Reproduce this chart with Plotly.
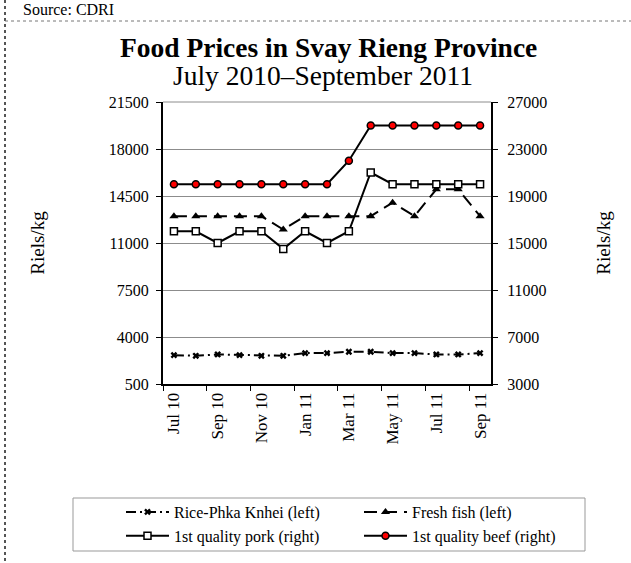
import plotly.graph_objects as go

months = ["Jul 10", "Aug 10", "Sep 10", "Oct 10", "Nov 10", "Dec 10", "Jan 11", "Feb 11",
          "Mar 11", "Apr 11", "May 11", "Jun 11", "Jul 11", "Aug 11", "Sep 11"]
rice = [2650, 2600, 2700, 2650, 2600, 2600, 2800, 2800, 2900, 2900, 2800, 2800, 2700, 2700, 2800]
fish = [13000, 13000, 13000, 13000, 13000, 12000, 13000, 13000, 13000, 13000, 14000, 13000, 15000, 15000, 13000]
pork = [16000, 16000, 15000, 16000, 16000, 14500, 16000, 15000, 16000, 21000, 20000, 20000, 20000, 20000, 20000]
beef = [20000, 20000, 20000, 20000, 20000, 20000, 20000, 20000, 22000, 25000, 25000, 25000, 25000, 25000, 25000]

FONT = "Liberation Serif"
W, H = 631, 563
ML, MR, MT, MB = 163, 140, 102, 179
PW, PH = W - ML - MR, H - MT - MB


def px(x):
    return (x - ML) / PW


def py(y):
    return (H - MB - y) / PH


fig = go.Figure()
fig.add_trace(go.Scatter(x=months, y=rice, name="Rice-Phka Knhei (left)", mode="lines+markers",
                         line=dict(color="black", width=2, dash="10px,4px,2px,4px"),
                         marker=dict(symbol="x", size=6, color="black")))
fig.add_trace(go.Scatter(x=months, y=fish, name="Fresh fish (left)", mode="lines+markers",
                         line=dict(color="black", width=2, dash="13px,7px"),
                         marker=dict(symbol="triangle-up", size=8, color="black")))
fig.add_trace(go.Scatter(x=months, y=pork, name="1st quality pork (right)", mode="lines+markers",
                         yaxis="y2", line=dict(color="black", width=2),
                         marker=dict(symbol="square", size=7, color="white",
                                     line=dict(color="black", width=1.5))))
fig.add_trace(go.Scatter(x=months, y=beef, name="1st quality beef (right)", mode="lines+markers",
                         yaxis="y2", line=dict(color="black", width=2),
                         marker=dict(symbol="circle", size=7, color="red",
                                     line=dict(color="black", width=1.5))))

fig.update_layout(
    width=W, height=H,
    margin=dict(l=ML, r=MR, t=MT, b=MB, autoexpand=False),
    paper_bgcolor="white", plot_bgcolor="white",
    font=dict(family=FONT, size=16, color="black"),
    showlegend=True,
    legend=dict(orientation="h", x=px(121), xanchor="left", y=py(495), yanchor="top",
                borderwidth=0, bgcolor="rgba(0,0,0,0)", itemwidth=43,
                entrywidth=180, font=dict(size=16, family=FONT), tracegroupgap=0),
    xaxis=dict(type="category", tickmode="linear", tick0=0, dtick=2, tickson="boundaries",
               ticks="outside", ticklen=5, tickcolor="black", tickangle=-90,
               showline=True, linecolor="black", linewidth=2, showgrid=False,
               range=[-0.5, 14.5], tickfont=dict(size=17), automargin=False),
    yaxis=dict(range=[500, 21500], tickmode="linear", tick0=500, dtick=3500, tickformat="d",
               showline=True, linecolor="black", linewidth=2, ticks="outside", ticklen=5,
               tickcolor="black", showgrid=True, gridcolor="#8c8c8c", gridwidth=1,
               zeroline=False, title=dict(text="Riels/kg", standoff=59, font=dict(size=19)),
               tickfont=dict(size=16), ticklabelstandoff=4, automargin=False),
    yaxis2=dict(range=[3000, 27000], tickmode="linear", tick0=3000, dtick=4000, tickformat="d",
                overlaying="y", side="right", showline=True, linecolor="black", linewidth=2,
                ticks="outside", ticklen=5, tickcolor="black", showgrid=False, zeroline=False,
                title=dict(text="Riels/kg", standoff=50, font=dict(size=19)),
                tickfont=dict(size=16), ticklabelstandoff=6, automargin=False),
    annotations=[
        dict(text="<b>Food Prices in Svay Rieng Province</b>", xref="paper", yref="paper",
             x=px(328), y=py(47), xanchor="center", yanchor="middle", showarrow=False,
             font=dict(size=27.5, family=FONT)),
        dict(text="July 2010–September 2011", xref="paper", yref="paper",
             x=px(323), y=py(75), xanchor="center", yanchor="middle", showarrow=False,
             font=dict(size=27.5, family=FONT)),
        dict(text="Source: CDRI", xref="paper", yref="paper",
             x=px(21), y=py(10), xanchor="left", yanchor="middle", showarrow=False,
             font=dict(size=16, family=FONT)),
    ],
    shapes=[
        dict(type="line", xref="paper", yref="paper", x0=px(5), x1=px(5), y0=py(0), y1=py(H),
             line=dict(color="#555555", width=2, dash="dot")),
        dict(type="line", xref="paper", yref="paper", x0=px(5), x1=px(W), y0=py(21), y1=py(21),
             line=dict(color="#777777", width=1, dash="dot")),
        dict(type="line", xref="paper", yref="paper", x0=0, x1=1, y0=1, y1=1,
             line=dict(color="#8c8c8c", width=1)),
        dict(type="rect", xref="paper", yref="paper", x0=px(73), x1=px(585), y0=py(498), y1=py(551),
             line=dict(color="#999999", width=1)),
    ],
)

fig.write_html("out.html", config={"displayModeBar": False},
               post_script="document.body.style.margin='0';")
